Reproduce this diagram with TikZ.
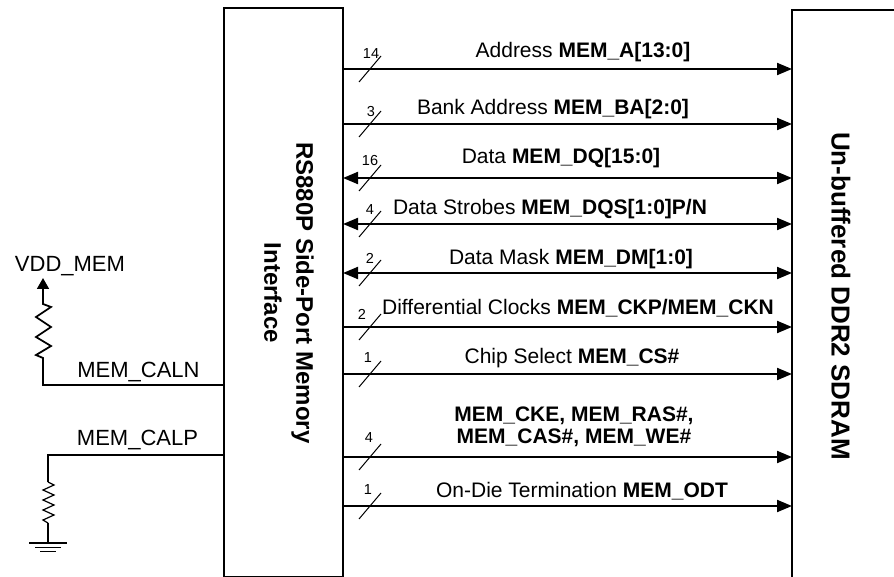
\documentclass[tikz,border=0pt]{standalone}
\usepackage{fontspec}
\setmainfont{Liberation Sans}
\usetikzlibrary{arrows.meta}
\begin{document}
\begin{tikzpicture}[x=1pt,y=-1pt,
  box/.style={draw, line width=2pt, inner sep=0pt, outer sep=0pt},
  tipA/.tip={Triangle[length=15pt,width=12pt]},
  sig/.style={line width=2pt, -tipA},
  bidir/.style={line width=2pt, tipA-tipA},
  wire/.style={line width=1.8pt, line join=miter},
  thinwire/.style={line width=1.2pt, line join=miter},
  slashmark/.style={line width=1pt},
  lbl/.style={font=\fontsize{21}{25}\selectfont, inner sep=0pt, anchor=base},
  sidelbl/.style={font=\fontsize{22}{26}\selectfont, inner sep=0pt, anchor=base},
  num/.style={font=\fontsize{14.5}{16}\selectfont, inner sep=0pt},
  title/.style={font=\fontsize{24}{32}\selectfont\bfseries, rotate=-90, align=center, inner sep=0pt},
]
\useasboundingbox (0,0) rectangle (894,577);
\clip (0,0) rectangle (894,577);

% blocks
\node[box, minimum width=119pt, minimum height=569pt] (lb) at (283.5,292.5) {};
\node[box, minimum width=200pt, minimum height=700pt, anchor=north west] (rb) at (792,10) {};
\node[title] (lt) at (289,293) {RS880P Side-Port Memory\\Interface};
\node[title, font=\fontsize{26}{32}\selectfont\bfseries] (rt) at (841,296) {Un-buffered DDR2 SDRAM};

% signal rows
\foreach \n/\y in {a/69, ba/124, dq/178, dqs/224, dm/273, ck/327, cs/374, cke/457, odt/506}{
  \coordinate (y\n) at (0,\y);
  \coordinate (L\n) at (lb.east |- y\n);
  \coordinate (R\n) at (rb.west |- y\n);
  \draw[slashmark] (359,{\y+13}) -- (381,{\y-13});
}
\draw[sig]   (La)   -- (Ra);
\draw[sig]   (Lba)  -- (Rba);
\draw[bidir] (Ldq)  -- (Rdq);
\draw[bidir] (Ldqs) -- (Rdqs);
\draw[bidir] (Ldm)  -- (Rdm);
\draw[sig]   (Lck)  -- (Rck);
\draw[sig]   (Lcs)  -- (Rcs);
\draw[sig]   (Lcke) -- (Rcke);
\draw[sig]   (Lodt) -- (Rodt);

% bus widths
\node[num] (na)   at (371,54)  {14};
\node[num] (nba)  at (371,112) {3};
\node[num] (ndq)  at (370,161) {16};
\node[num] (ndqs) at (370,210) {4};
\node[num] (ndm)  at (370,258) {2};
\node[num] (nck)  at (362,314) {2};
\node[num] (ncs)  at (368,358) {1};
\node[num] (ncke) at (369,438) {4};
\node[num] (nodt) at (368,490) {1};

% signal labels
\node[lbl] (ta)   at (583,58)  {Address \textbf{MEM\_A[13:0]}};
\node[lbl] (tba)  at (553,115) {Bank Address \textbf{MEM\_BA[2:0]}};
\node[lbl] (tdq)  at (561,164) {Data \textbf{MEM\_DQ[15:0]}};
\node[lbl] (tdqs) at (550,215) {Data Strobes \textbf{MEM\_DQS[1:0]P/N}};
\node[lbl] (tdm)  at (571,265) {Data Mask \textbf{MEM\_DM[1:0]}};
\node[lbl] (tck)  at (578,315) {Differential Clocks \textbf{MEM\_CKP/MEM\_CKN}};
\node[lbl] (tcs)  at (572,363) {Chip Select \textbf{MEM\_CS\#}};
\node[lbl] (tcke1) at (574,421) {\textbf{MEM\_CKE, MEM\_RAS\#,}};
\node[lbl] (tcke2) at (574,443) {\textbf{MEM\_CAS\#, MEM\_WE\#}};
\node[lbl] (todt) at (582,497) {On-Die Termination \textbf{MEM\_ODT}};

% calibration resistors
\node[sidelbl] (vdd)  at (70,272)    {VDD\_MEM};
\node[sidelbl] (caln) at (138.5,377) {MEM\_CALN};
\node[sidelbl] (calp) at (137.5,445) {MEM\_CALP};

\coordinate (ycaln) at (0,385);
\coordinate (ycalp) at (0,455);
\coordinate (calnpin) at (lb.west |- ycaln);
\coordinate (calppin) at (lb.west |- ycalp);
\coordinate (vddtip) at (43,278);
\coordinate (gnd) at (48,543);

\draw[wire, -{Triangle[length=11pt,width=12pt]}] (calnpin) -- (43,385) -- (43,358) -- (36,355) -- (51,346) -- (36,337)
   -- (51,327) -- (36,317) -- (51,307) -- (43,304) -- (vddtip);

\draw[wire] (calppin) -- (48,455) -- (48,482);
\draw[thinwire] (48,482) -- (54,485) -- (43,490) -- (54,495) -- (43,500) -- (54,505)
   -- (43,510) -- (54,515) -- (43,520) -- (48,523);
\draw[wire] (48,523) -- (gnd);
\draw[line width=1.5pt] (29,543) -- (67,543);
\draw[line width=1.5pt] (35,547.7) -- (61,547.7);
\draw[line width=1.5pt] (40,551.7) -- (56,551.7);
\end{tikzpicture}
\end{document}
